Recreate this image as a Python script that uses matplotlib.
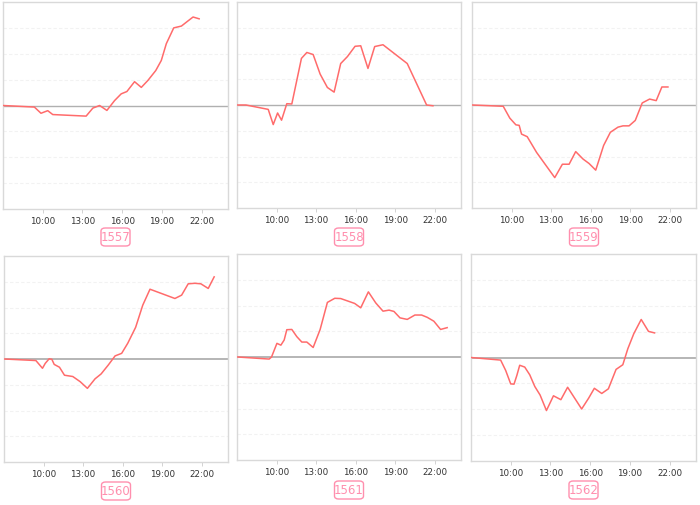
import matplotlib.pyplot as plt
from matplotlib.patches import FancyBboxPatch

# hours of the day (decimal) and values per panel
t1557 = [7.0, 9.37, 9.87, 10.38, 10.76, 13.28, 13.79, 14.3, 14.85, 15.43, 15.93, 16.36, 16.94,
         17.45, 17.95, 18.54, 18.96, 19.34, 19.9, 20.48, 20.93, 21.36, 21.82]
v1557 = [0, -0.06, -0.3, -0.2, -0.35, -0.41, -0.1, 0, -0.19, 0.19, 0.45, 0.54, 0.92,
         0.7, 0.97, 1.35, 1.74, 2.39, 3.0, 3.07, 3.25, 3.42, 3.35]

t1558 = [7.05, 7.68, 9.37, 9.75, 10.08, 10.38, 10.78, 11.16, 11.89, 12.3, 12.78, 13.31, 13.86,
         14.37, 14.87, 15.38, 15.96, 16.39, 16.94, 17.45, 18.08, 19.92, 21.39, 21.87]
v1558 = [0, 0, -0.17, -0.76, -0.31, -0.59, 0.05, 0.04, 1.81, 2.04, 1.96, 1.2, 0.68,
         0.5, 1.61, 1.88, 2.28, 2.3, 1.42, 2.27, 2.34, 1.61, 0, -0.03]

t1559 = [7.02, 9.37, 9.87, 10.33, 10.58, 10.76, 11.19, 11.9, 13.28, 13.86, 14.37, 14.87, 15.43,
         15.88, 16.39, 16.99, 17.5, 18.08, 18.46, 18.92, 19.39, 19.92, 20.48, 20.98, 21.41, 21.87]
v1559 = [0, -0.05, -0.51, -0.77, -0.79, -1.13, -1.23, -1.84, -2.82, -2.3, -2.3, -1.81, -2.1,
         -2.27, -2.53, -1.57, -1.06, -0.86, -0.81, -0.81, -0.6, 0.08, 0.23, 0.17, 0.7, 0.7]

t1560 = [7.02, 9.42, 9.92, 10.13, 10.43, 10.63, 10.81, 11.21, 11.59, 12.22, 12.78, 13.33, 13.91,
         14.37, 14.92, 15.43, 15.93, 16.39, 16.99, 17.53, 18.08, 19.97, 20.48, 20.98, 21.49,
         21.94, 22.5, 22.95]
v1560 = [0, -0.06, -0.36, -0.17, 0.01, -0.01, -0.21, -0.32, -0.63, -0.68, -0.88, -1.14, -0.77,
         -0.58, -0.23, 0.12, 0.22, 0.61, 1.23, 2.09, 2.71, 2.35, 2.48, 2.92, 2.94,
         2.92, 2.74, 3.19]

t1561 = [7.05, 9.44, 9.62, 10.03, 10.33, 10.58, 10.78, 11.16, 11.54, 11.92, 12.3, 12.78, 13.31,
         13.86, 14.42, 14.87, 15.93, 16.39, 16.97, 17.53, 18.08, 18.54, 18.91, 19.37, 19.92,
         20.5, 21.01, 21.44, 21.94, 22.45, 22.95]
v1561 = [0, -0.08, 0, 0.53, 0.46, 0.66, 1.06, 1.07, 0.79, 0.58, 0.58, 0.37, 1.07,
         2.12, 2.28, 2.27, 2.08, 1.91, 2.53, 2.1, 1.78, 1.82, 1.77, 1.52, 1.46,
         1.63, 1.63, 1.54, 1.39, 1.07, 1.14]

t1562 = [7.0, 9.24, 9.62, 10.0, 10.25, 10.46, 10.68, 11.06, 11.44, 11.82, 12.22, 12.7, 13.23,
         13.79, 14.3, 15.36, 15.89, 16.32, 16.88, 17.38, 17.96, 18.47, 18.85, 19.3, 19.86,
         20.41, 20.87]
v1562 = [0, -0.1, -0.5, -1.02, -1.03, -0.7, -0.3, -0.37, -0.67, -1.12, -1.45, -2.05, -1.48,
         -1.63, -1.15, -1.99, -1.57, -1.19, -1.39, -1.21, -0.46, -0.28, 0.34, 0.92, 1.47,
         1.01, 0.95]

names = ['1557', '1558', '1559', '1560', '1561', '1562']
times = [t1557, t1558, t1559, t1560, t1561, t1562]
values = [v1557, v1558, v1559, v1560, v1561, v1562]
tick_hours = [10, 13, 16, 19, 22]
tick_labels = ['10:00', '13:00', '16:00', '19:00', '22:00']

W, H = 700, 506
fig = plt.figure(figsize=(7, 5.06), dpi=100)

# axes boxes in pixels: left, top, right, bottom
boxes = [(3, 3, 228, 210), (237, 3, 461, 209), (472, 3, 696, 209),
         (4, 257, 228, 463), (237, 255, 461, 461), (471, 255, 696, 462)]
label_y = [238, 238, 238, 492, 491, 491]

line_col = '#ff6b6b'
pink = '#ff8fae'

for i in range(6):
    l, t, r, b = boxes[i]
    ax = fig.add_axes([l / W, 1 - b / H, (r - l) / W, (b - t) / H])
    ax.plot(times[i], values[i], color=line_col, lw=1.1, zorder=3)
    ax.set_xlim(7, 24)
    ax.set_ylim(-4, 4)
    for g in [-3, -2, -1, 1, 2, 3]:
        ax.axhline(g, color='#f2f2f2', lw=0.8, ls=(0, (3, 2)), zorder=1)
    ax.axhline(0, color='#b0b0b0', lw=1.3 if i >= 3 else 1.0, zorder=2)
    ax.set_yticks([])
    ax.set_xticks(tick_hours)
    ax.set_xticklabels(tick_labels, fontsize=6.3, color='#333333')
    ax.tick_params(axis='x', length=3, width=0.6, color='#cccccc', pad=2)
    for s in ax.spines.values():
        s.set_color('#d9d9d9')
        s.set_linewidth(1.0)

    cx = (l + r) / 2
    cy = label_y[i]
    bw, bh = 29, 18
    box = FancyBboxPatch(((cx - bw / 2) / W, 1 - (cy + bh / 2) / H), bw / W, bh / H,
                         boxstyle='round,pad=0,rounding_size=0.006',
                         transform=fig.transFigure, fc='white', ec=pink, lw=1.0)
    fig.patches.append(box)
    fig.text(cx / W, 1 - cy / H, names[i], ha='center', va='center',
             fontsize=8.5, color=pink)

fig.savefig('out.png', dpi=100)
